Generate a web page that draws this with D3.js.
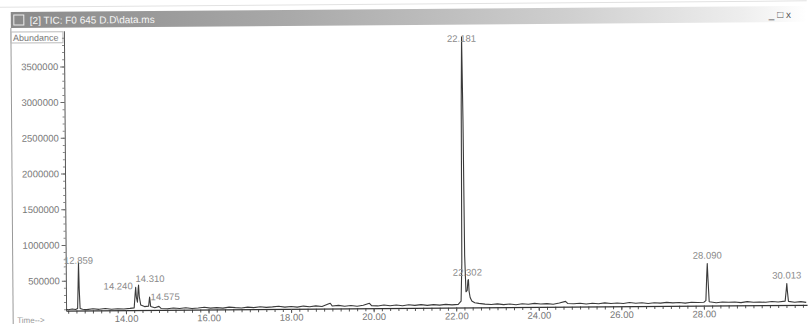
<!DOCTYPE html>
<html>
<head>
<meta charset="utf-8">
<script src="https://cdn.jsdelivr.net/npm/d3@7"></script>
<style>
  body { margin: 0; background: #fff; }
  svg { display: block; font-family: "Liberation Sans", Arial, sans-serif; }
</style>
</head>
<body>
<svg id="chart"></svg>
<script>

// chart texts
const windowTitle = "[2] TIC: F0 645 D.D\\data.ms";
const yTitle = "Abundance";
const xTitle = "Time-->";

// axis ticks
const yTickValues = [500000, 1000000, 1500000, 2000000, 2500000, 3000000, 3500000];
const xTickValues = [14, 16, 18, 20, 22, 24, 26, 28];

// labelled peaks: retention time (min) and apex abundance
const peakTimes = [12.859, 14.240, 14.310, 14.575, 22.181, 22.302, 28.090, 30.013];
const peakApex = [750000, 400000, 430000, 260000, 3870000, 470000, 668000, 380000];

// TIC trace: [time, abundance]
const trace = [
    [12.55, 100000], [12.60, 92000], [12.70, 102000], [12.78, 95000], [12.83, 110000],
    [12.845, 420000], [12.859, 750000], [12.872, 380000], [12.89, 110000], [12.95, 98000],
    [13.05, 92000], [13.20, 104000], [13.35, 95000], [13.50, 106000], [13.65, 94000],
    [13.80, 102000], [13.95, 97000], [14.10, 105000], [14.20, 112000], [14.225, 300000],
    [14.240, 400000], [14.255, 260000], [14.28, 190000], [14.30, 380000], [14.310, 430000],
    [14.325, 270000], [14.36, 150000], [14.45, 128000], [14.55, 135000], [14.575, 260000],
    [14.60, 130000], [14.70, 112000], [14.80, 130000], [14.85, 100000], [15.00, 95000],
    [15.15, 106000], [15.30, 98000], [15.45, 108000], [15.60, 96000], [15.75, 103000],
    [15.90, 112000], [16.05, 100000], [16.20, 106000], [16.35, 98000], [16.50, 112000],
    [16.65, 104000], [16.80, 98000], [16.95, 110000], [17.10, 102000], [17.25, 114000],
    [17.40, 104000], [17.55, 110000], [17.70, 118000], [17.85, 106000], [18.00, 114000],
    [18.15, 104000], [18.30, 118000], [18.45, 108000], [18.60, 120000], [18.75, 110000],
    [18.90, 145000], [18.95, 155000], [19.00, 115000], [19.15, 124000], [19.30, 112000],
    [19.45, 120000], [19.60, 110000], [19.75, 122000], [19.90, 150000], [19.95, 116000],
    [20.10, 112000], [20.25, 124000], [20.40, 114000], [20.55, 122000], [20.70, 112000],
    [20.85, 124000], [21.00, 116000], [21.15, 126000], [21.30, 114000], [21.45, 124000],
    [21.60, 117000], [21.75, 126000], [21.90, 119000], [22.05, 125000], [22.12, 170000],
    [22.145, 700000], [22.16, 2900000], [22.181, 3870000], [22.20, 2700000], [22.215, 800000],
    [22.24, 300000], [22.27, 320000], [22.29, 460000], [22.302, 470000], [22.315, 310000],
    [22.34, 220000], [22.38, 170000], [22.45, 145000], [22.55, 136000], [22.70, 126000],
    [22.85, 120000], [23.00, 127000], [23.15, 116000], [23.30, 124000], [23.45, 114000],
    [23.60, 126000], [23.75, 118000], [23.90, 130000], [24.05, 120000], [24.20, 126000],
    [24.35, 116000], [24.50, 134000], [24.65, 155000], [24.70, 126000], [24.85, 120000],
    [25.00, 128000], [25.15, 116000], [25.30, 126000], [25.45, 119000], [25.60, 130000],
    [25.75, 120000], [25.90, 126000], [26.05, 118000], [26.20, 132000], [26.35, 122000],
    [26.50, 128000], [26.65, 116000], [26.80, 126000], [26.95, 120000], [27.10, 130000],
    [27.25, 122000], [27.40, 126000], [27.55, 118000], [27.70, 130000], [27.85, 124000],
    [28.00, 128000], [28.05, 150000], [28.075, 500000], [28.090, 668000], [28.105, 450000],
    [28.13, 135000], [28.30, 120000], [28.45, 130000], [28.60, 124000], [28.75, 128000],
    [28.90, 118000], [29.05, 132000], [29.20, 122000], [29.35, 126000], [29.50, 120000],
    [29.65, 130000], [29.80, 123000], [29.97, 135000], [30.00, 300000], [30.013, 380000],
    [30.025, 280000], [30.05, 130000], [30.20, 118000], [30.35, 126000], [30.48, 115000]
];


const width = 808;
const height = 324;
const plot = {left: 65, right: 806, top: 28, bottom: 308};

const svg = d3.select("#chart")
    .attr("width", width)
    .attr("height", height);

// the scan is very slightly tilted
const root = svg.append("g")
    .attr("transform", "rotate(-0.45, 404, 170)");

const xScale = d3.scaleLinear().domain([12.55, 30.5]).range([plot.left, plot.right]);
const yScale = d3.scaleLinear().domain([80000, 4000000]).range([plot.bottom, plot.top]);

// window title bar
const grad = svg.append("defs").append("linearGradient")
    .attr("id", "bar").attr("x1", 0).attr("x2", 1).attr("y1", 0).attr("y2", 0);
grad.append("stop").attr("offset", "0%").attr("stop-color", "#8a8a8a");
grad.append("stop").attr("offset", "35%").attr("stop-color", "#a9a9a9");
grad.append("stop").attr("offset", "70%").attr("stop-color", "#cfcfcf");
grad.append("stop").attr("offset", "92%").attr("stop-color", "#eeeeee");
grad.append("stop").attr("offset", "100%").attr("stop-color", "#ffffff");

root.append("line")
    .attr("x1", 0).attr("x2", width).attr("y1", 4).attr("y2", 4)
    .attr("stroke", "#e2e2e2");

root.append("rect")
    .attr("x", 12).attr("y", 9).attr("width", width - 12).attr("height", 16)
    .attr("fill", "url(#bar)");

root.append("rect")
    .attr("x", 15).attr("y", 12).attr("width", 10).attr("height", 10)
    .attr("fill", "none").attr("stroke", "#eee");

root.append("text")
    .attr("x", 31).attr("y", 21)
    .attr("font-size", 10)
    .attr("fill", "#f6f6f6")
    .text(windowTitle);

root.append("text")
    .attr("x", 770).attr("y", 21)
    .attr("font-size", 10).attr("fill", "#555")
    .text("_ □ x");

// window frame
root.append("line")
    .attr("x1", 12).attr("x2", 12).attr("y1", 25).attr("y2", height)
    .attr("stroke", "#999");

// axis titles
root.append("rect")
    .attr("x", 12).attr("y", 29).attr("width", 52).attr("height", 11)
    .attr("fill", "none").attr("stroke", "#bbb");
root.append("text")
    .attr("x", 14).attr("y", 38)
    .attr("font-size", 9).attr("fill", "#777")
    .text(yTitle);

root.append("text")
    .attr("x", 16).attr("y", 320)
    .attr("font-size", 8).attr("fill", "#999")
    .text(xTitle);

// y axis
root.append("g")
    .attr("transform", `translate(${plot.left},0)`)
    .call(d3.axisLeft(yScale).tickValues(d3.range(100000, 4000000, 100000)).tickSize(2).tickFormat(""))
    .call(g => g.select(".domain").remove())
    .selectAll("line").attr("stroke", "#888");

const yAxis = root.append("g")
    .attr("transform", `translate(${plot.left},0)`)
    .call(d3.axisLeft(yScale).tickValues(yTickValues).tickSize(4).tickSizeOuter(0).tickPadding(2).tickFormat(d3.format("d")));
yAxis.select(".domain").attr("stroke", "#555");
yAxis.selectAll("line").attr("stroke", "#666");
yAxis.selectAll("text")
    .attr("font-size", 9.5)
    .attr("font-family", "Liberation Sans, Arial, sans-serif")
    .attr("fill", "#777");

// x axis
root.append("g")
    .attr("transform", `translate(0,${plot.bottom})`)
    .call(d3.axisBottom(xScale).tickValues(d3.range(12.6, 30.5, 0.2)).tickSize(3).tickFormat(""))
    .call(g => g.select(".domain").remove())
    .selectAll("line").attr("stroke", "#555");

const xAxis = root.append("g")
    .attr("transform", `translate(0,${plot.bottom})`)
    .call(d3.axisBottom(xScale).tickValues(xTickValues).tickSize(4).tickSizeOuter(0).tickPadding(1).tickFormat(d3.format(".2f")));
xAxis.select(".domain").attr("stroke", "#333").attr("stroke-width", 1.3);
xAxis.selectAll("line").attr("stroke", "#555");
xAxis.selectAll("text")
    .attr("font-size", 9.5)
    .attr("font-family", "Liberation Sans, Arial, sans-serif")
    .attr("fill", "#777");

// TIC trace
const line = d3.line()
    .x(d => xScale(d[0]))
    .y(d => yScale(d[1]));

root.append("path")
    .datum(trace)
    .attr("fill", "none")
    .attr("stroke", "#3a3a3a")
    .attr("stroke-width", 1.1)
    .attr("stroke-linejoin", "round")
    .attr("d", line);

// peak labels (anchor and nudge per label to keep them apart)
const labelNudge = {
    "12.859": {anchor: "middle", dx: 0, dy: 1},
    "14.240": {anchor: "end", dx: -3, dy: 2},
    "14.310": {anchor: "start", dx: -3, dy: -3},
    "14.575": {anchor: "start", dx: 1, dy: 3},
    "22.181": {anchor: "middle", dx: 0, dy: 5},
    "22.302": {anchor: "middle", dx: -1, dy: -4},
    "28.090": {anchor: "middle", dx: 0, dy: -5},
    "30.013": {anchor: "middle", dx: 0, dy: -5}
};

root.append("g")
    .selectAll("text")
    .data(peakTimes)
    .join("text")
    .each(function(d, i) {
        const key = d.toFixed(3);
        const n = labelNudge[key];
        d3.select(this)
            .attr("x", xScale(d) + n.dx)
            .attr("y", yScale(peakApex[i]) + n.dy)
            .attr("text-anchor", n.anchor)
            .text(key);
    })
    .attr("font-size", 9.5)
    .attr("fill", "#8a8a8a");

</script>
</body>
</html>
